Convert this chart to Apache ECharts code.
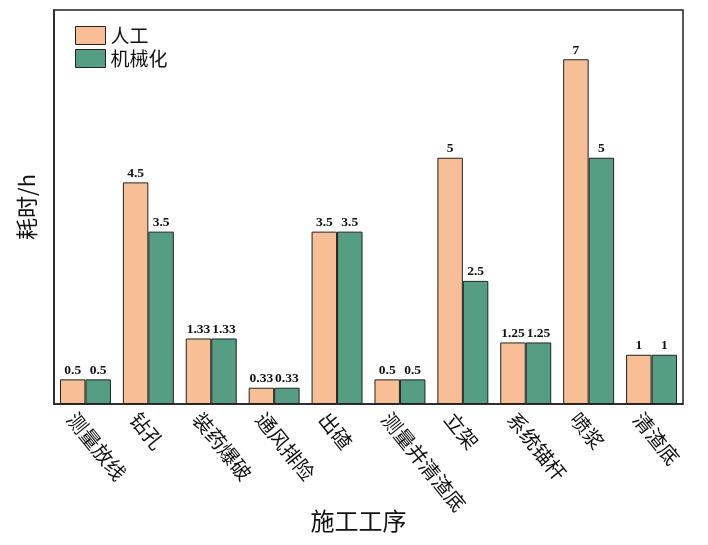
<!DOCTYPE html>
<html><head><meta charset="utf-8">
<script src="https://cdn.jsdelivr.net/npm/echarts@6/dist/echarts.min.js"></script>
<style>html,body{margin:0;padding:0;background:#fff}#c{width:708px;height:545px}</style>
</head><body><div id="c"></div>
<script>
var categories = ['测量放线','钻孔','装药爆破','通风排险','出碴','测量并清渣底','立架','系统锚杆','喷浆','清渣底'];
var manual = [0.5, 4.5, 1.33, 0.33, 3.5, 0.5, 5, 1.25, 7, 1];
var mech = [0.5, 3.5, 1.33, 0.33, 3.5, 0.5, 2.5, 1.25, 5, 1];
var seriesNames = ['人工', '机械化'];
var yMax = 8;

var cjk = '"Noto Sans CJK SC", sans-serif';
var labelStyle = {show: true, position: 'top', distance: 2, color: '#111', fontFamily: '"Liberation Serif", serif', fontWeight: 'bold', fontSize: 13.5};
var chart = echarts.init(document.getElementById('c'));
chart.setOption({
  animation: false,
  grid: {left: 54, right: 25, top: 10, bottom: 141, show: true, borderColor: '#222', borderWidth: 1.5,
         containLabel: false, outerBoundsMode: 'none'},
  legend: {
    left: 70, top: 21, orient: 'vertical', itemWidth: 30, itemHeight: 18, itemGap: 4, icon: 'rect',
    itemStyle: {borderColor: '#222', borderWidth: 1},
    textStyle: {fontFamily: cjk, fontSize: 19, color: '#111'},
    data: seriesNames
  },
  xAxis: {
    type: 'category', data: categories,
    axisLine: {lineStyle: {color: '#222', width: 1.5}},
    axisTick: {show: false},
    axisLabel: {rotate: -51, interval: 0, fontFamily: cjk, fontSize: 20, color: '#111', margin: 0,
                align: 'left', verticalAlign: 'top', padding: [8, 0, 0, 0]},
    name: '施工工序', nameLocation: 'middle', nameGap: 105, nameMoveOverlap: false,
    nameTextStyle: {fontFamily: cjk, fontSize: 24, color: '#111', padding: [0, 20, 0, 0]}
  },
  yAxis: {
    type: 'value', min: 0, max: yMax,
    axisLine: {show: true, lineStyle: {color: '#222', width: 1.5}},
    axisTick: {show: false}, axisLabel: {show: false}, splitLine: {show: false},
    name: '耗时/h', nameLocation: 'middle', nameGap: 16, nameRotate: 90,
    nameTextStyle: {fontFamily: cjk, fontSize: 22, color: '#111'}
  },
  series: [
    {name: seriesNames[0], type: 'bar', data: manual, barGap: '0%', barCategoryGap: '19%',
     itemStyle: {color: '#F8BE95', borderColor: '#222', borderWidth: 1}, label: labelStyle},
    {name: seriesNames[1], type: 'bar', data: mech, barGap: '0%', barCategoryGap: '19%',
     itemStyle: {color: '#559E83', borderColor: '#222', borderWidth: 1}, label: labelStyle}
  ]
});
</script></body></html>
